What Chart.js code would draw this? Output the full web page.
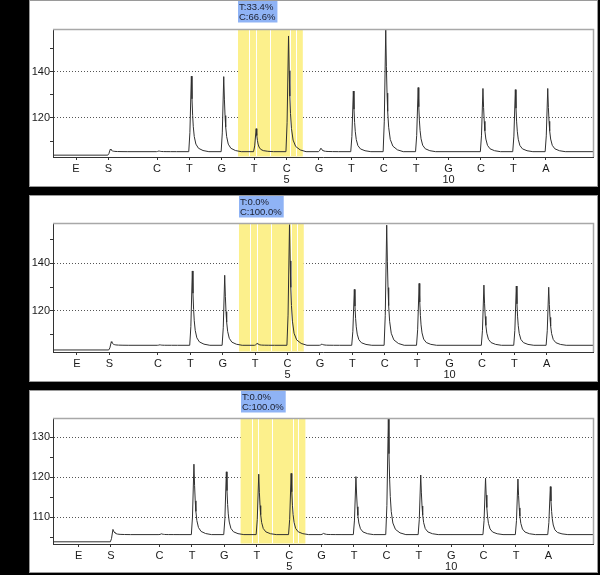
<!DOCTYPE html>
<html><head><meta charset="utf-8">
<script src="https://cdn.jsdelivr.net/npm/chart.js@4.4.1/dist/chart.umd.min.js"></script>
<style>
html,body{margin:0;padding:0;background:#000;width:600px;height:575px;overflow:hidden;}
.panel{position:absolute;left:29px;width:569px;box-sizing:border-box;border:1px solid #9a9a9a;background:#fff;}
.panel canvas{display:block;}
</style></head><body>
<div class="panel" style="top:0;height:187px"><canvas id="c1" width="567" height="185" style="width:567px;height:185px"></canvas></div>
<div class="panel" style="top:195px;height:187px"><canvas id="c2" width="567" height="185" style="width:567px;height:185px"></canvas></div>
<div class="panel" style="top:390px;height:183px"><canvas id="c3" width="567" height="181" style="width:567px;height:181px"></canvas></div>
<script>
// ---- data ----
const dispensationLabels = ['E','S','C','T','G','T','C','G','T','C','T','G','C','T','A'];
const dispensationPositions = [0,1,2.5,3.5,4.5,5.5,6.5,7.5,8.5,9.5,10.5,11.5,12.5,13.5,14.5];
// signal at peak top for each nucleotide dispensation (C ... A)
const peaks1 = [105.8,138.0,137.8,115.4,155.3,107.0,131.6,158.0,133.1,105.3,132.7,132.2,132.7];
const peaks2 = [105.9,136.7,134.9,106.5,156.0,106.2,129.0,155.8,131.5,105.5,130.8,130.4,129.9];
const peaks3 = [105.8,123.2,121.3,120.7,120.9,105.9,120.1,134.5,120.5,105.5,119.7,119.5,117.6];
const startBase = [104.0, 103.75, 103.8];
const sPeak = [106.6, 107.2, 106.9];
const baseAfterS = [105.5, 105.7, 105.6];
const yTicks1 = [110,120,130,140,150], yLabels1 = [120,140];
const yTicks2 = [110,120,130,140,150], yLabels2 = [120,140];
const yTicks3 = [105,110,115,120,125,130], yLabels3 = [110,120,130];
const yRanges = [[103.2,158.3],[102.9,156.7],[103.25,134.75]];
const xMins = [-0.71,-0.74,-0.79];
const percentages = [['T:33.4%','C:66.6%'],['T:0.0%','C:100.0%'],['T:0.0%','C:100.0%']];
const highlightRange = [5.0, 7.0];
const highlightDividers = [5.35,5.55,5.98,6.62,6.78];
// peak shape (offset from dispensation, fraction of peak height)
const peakShapeOffsets   = [-0.02,0.015,0.06,0.08,0.10,0.12,0.15,0.20,0.28,0.42,0.6];
const peakShapeFractions = [0,0.25,1,0.7,0.48,0.33,0.2,0.1,0.045,0.015,0];

const X_RANGE = 16.667;

function buildTrace(p, peaks, xmin, xmax){
  const pts = [{x:xmin, y:startBase[p]}];
  const sx = dispensationPositions[1];
  peakShapeOffsets.forEach((o,k)=>{
    const base = o <= 0.02 ? startBase[p] : baseAfterS[p];
    pts.push({x:sx+o, y: base + (sPeak[p]-base)*peakShapeFractions[k]});
  });
  peaks.forEach((top,j)=>{
    const px = dispensationPositions[j+2];
    const h = top - baseAfterS[p];
    if (h <= 0.05) return;
    peakShapeOffsets.forEach((o,k)=>{
      pts.push({x:px+o, y: baseAfterS[p] + h*peakShapeFractions[k]});
    });
  });
  pts.push({x:xmax, y:baseAfterS[p]});
  return pts;
}

const FONT = {family:'"Liberation Sans", Arial, sans-serif', size:11, lineHeight:1};

const pyroPlugin = {
  id:'pyro',
  beforeDatasetsDraw(chart){
    const {ctx, chartArea:a, scales:{x}} = chart;
    const x0 = x.getPixelForValue(highlightRange[0]), x1 = x.getPixelForValue(highlightRange[1]);
    ctx.save();
    ctx.fillStyle = '#fcf08c';
    ctx.fillRect(x0, a.top, x1-x0, a.bottom-a.top-0.5);
    ctx.strokeStyle = '#ffffff'; ctx.lineWidth = 1;
    highlightDividers.forEach(v=>{
      const px = Math.round(x.getPixelForValue(v))+0.5;
      ctx.beginPath(); ctx.moveTo(px, a.top); ctx.lineTo(px, a.bottom-1); ctx.stroke();
    });
    ctx.restore();
  },
  afterDraw(chart, args, opts){
    const {ctx, chartArea:a, scales:{x}} = chart;
    ctx.save();
    ctx.strokeStyle = '#a8a8a8'; ctx.lineWidth = 1.5;
    ctx.beginPath();
    ctx.moveTo(a.left, a.top+0.5); ctx.lineTo(a.right+0.5, a.top+0.5); ctx.lineTo(a.right+0.5, a.bottom);
    ctx.stroke();
    const lines = opts.lines;
    const x0 = Math.round(x.getPixelForValue(highlightRange[0]));
    ctx.font = '9.5px "Liberation Sans", Arial, sans-serif';
    const w = Math.max(...lines.map(t=>ctx.measureText(t).width)) + 3;
    ctx.fillStyle = '#8fb3f5';
    ctx.fillRect(x0, 0, w, 21.5);
    ctx.fillStyle = '#1b1f2e';
    ctx.textBaseline = 'alphabetic';
    ctx.fillText(lines[0], x0+1, 9);
    ctx.fillText(lines[1], x0+1, 19);
    ctx.restore();
  }
};

function makeChart(id, p, peaks, yTicks, yLabels, topPad, bottomH){
  const xmin = xMins[p], xmax = xmin + X_RANGE;
  new Chart(document.getElementById(id), {
    type:'line',
    data:{datasets:[{data:buildTrace(p, peaks, xmin, xmax), borderColor:'#303030', borderWidth:1,
      pointRadius:0, tension:0, fill:false}]},
    options:{
      animation:false, responsive:false, maintainAspectRatio:false,
      layout:{padding:{left:0, top:topPad, right:4, bottom:0}},
      plugins:{legend:{display:false}, tooltip:{enabled:false}, pyro:{lines:percentages[p]}},
      scales:{
        x:{type:'linear', min:xmin, max:xmax,
          afterBuildTicks(s){ s.ticks = dispensationPositions.map(v=>({value:v})); },
          afterFit(s){ s.height = bottomH; s.paddingLeft = 0; s.paddingRight = 0; },
          ticks:{autoSkip:false, maxRotation:0, minRotation:0, padding:3, color:'#1a1a1a', font:FONT,
            callback(value, index){
              const lab = dispensationLabels[index];
              const n = index - 1;
              return (index >= 2 && n % 5 === 0) ? [lab, String(n)] : lab;
            }},
          grid:{display:true, drawOnChartArea:false, drawTicks:true, tickLength:3, tickColor:'#333'},
          border:{display:true, color:'#333', width:1}
        },
        y:{type:'linear', min:yRanges[p][0], max:yRanges[p][1],
          afterBuildTicks(s){ s.ticks = yTicks.map(v=>({value:v})); },
          afterFit(s){ s.width = 23; s.paddingTop = 0; s.paddingBottom = 0; },
          ticks:{padding:0, color:'#1a1a1a', font:FONT, callback(v){ return yLabels.includes(v) ? String(v) : ''; }},
          grid:{display:true, drawOnChartArea:true, drawTicks:true, tickLength:3, tickColor:'#333',
            color(ctx){ return ctx.tick && yLabels.includes(ctx.tick.value) ? '#555' : 'rgba(0,0,0,0)'; }},
          border:{display:true, color:'#333', width:1, dash:[1,2]}
        }
      }
    },
    plugins:[pyroPlugin]
  });
}

makeChart('c1', 0, peaks1, yTicks1, yLabels1, 28, 29);
makeChart('c2', 1, peaks2, yTicks2, yLabels2, 27, 29);
makeChart('c3', 2, peaks3, yTicks3, yLabels3, 27, 28);
</script>
</body></html>
